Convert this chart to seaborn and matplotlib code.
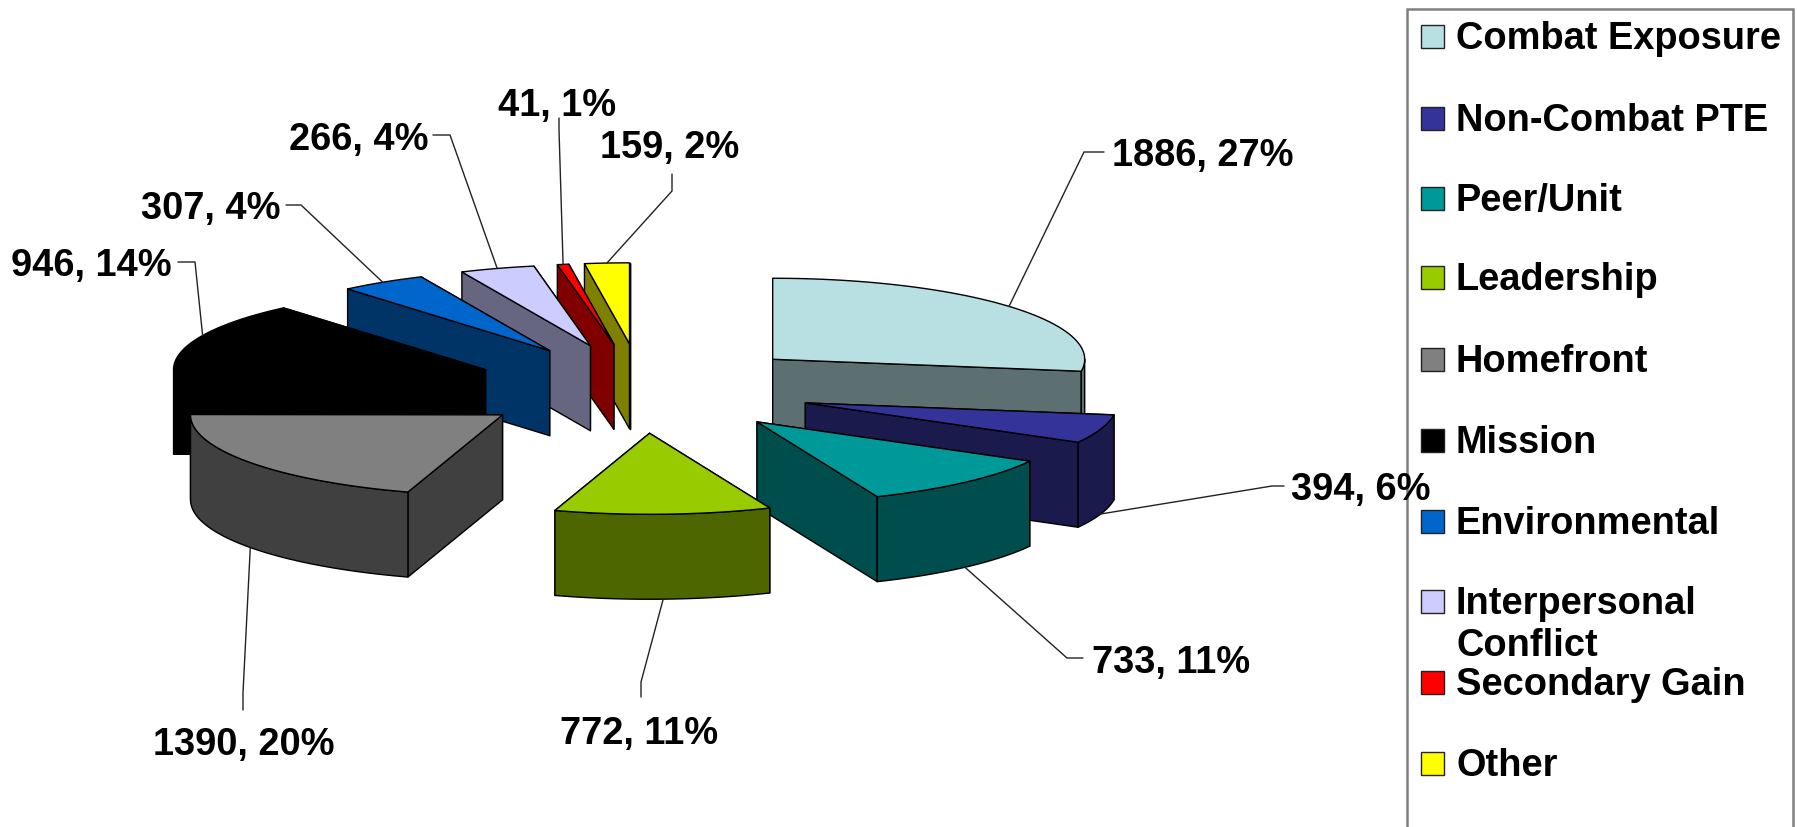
import numpy as np
import matplotlib
matplotlib.use("Agg")
import matplotlib.pyplot as plt
from matplotlib.patches import Polygon, Rectangle
import seaborn as sns

# Data
categories = ["Combat Exposure", "Non-Combat PTE", "Peer/Unit", "Leadership", "Homefront",
              "Mission", "Environmental", "Interpersonal\nConflict", "Secondary Gain", "Other"]
counts = [1886, 394, 733, 772, 1390, 946, 307, 266, 41, 159]
hex_colors = ["#B8E0E3", "#333399", "#009999", "#99CC00", "#808080",
              "#000000", "#0066CC", "#CCCCFF", "#FF0000", "#FFFF00"]

# Pie geometry in pixels
cx, cy = 642, 388.5
rx, ry = 312, 81
explode = 0.553
depth = 85

# Label layout: text position (left, centre) and elbow of the leader line
label_pos = [(1112, 156), (1291, 490), (1092, 663), (560, 734), (153, 745),
             (11, 266), (141, 209), (289, 140), (498, 106), (600, 148)]
elbows = [[(1084, 152), (1104, 152)], [(1272, 486), (1284, 486)], [(1067, 658), (1083, 658)],
          [(641, 682), (641, 697)], [(243, 693), (243, 710)], [(195, 262), (178, 262)],
          [(301, 205), (286, 205)], [(450, 135), (433, 135)], [(559, 130), (559, 118)],
          [(672, 191), (672, 174)]]

# Legend layout
legend_left, legend_top, legend_right = 1407, 9, 1793
legend_y = [36, 118, 198, 277, 359, 440, 521, 601, 682, 763]
text_shift = 3

sns.set_theme(style="white")
plt.rcParams['font.family'] = ['Liberation Sans', 'DejaVu Sans']
palette = sns.color_palette(hex_colors)

fig = plt.figure(figsize=(17.97, 8.27), dpi=100)
ax = fig.add_axes([0, 0, 1, 1])
ax.set_xlim(0, 1797)
ax.set_ylim(827, 0)
ax.axis("off")

def ring(a, ox, oy):
    # a in radians clockwise from 12 o'clock
    return np.column_stack([ox + rx * np.sin(a), oy - ry * np.cos(a)])

def draw_slice(a0, a1, color):
    mid = (a0 + a1) / 2
    ox = cx + explode * rx * np.sin(mid)
    oy = cy - explode * ry * np.cos(mid)
    dark = tuple(np.array(color) * 0.5)
    kw = dict(facecolor=dark, edgecolor="black", linewidth=1, joinstyle="round")
    # radial faces, the one nearer the back first
    faces = []
    for a in (a0, a1):
        p = ring(np.array([a]), ox, oy)[0]
        faces.append([(ox, oy), tuple(p), (p[0], p[1] + depth), (ox, oy + depth)])
    faces.sort(key=lambda f: f[1][1])
    for f in faces:
        ax.add_patch(Polygon(f, closed=True, **kw))
    # outer wall, only the part that faces the viewer
    lo, hi = max(a0, np.pi / 2), min(a1, 3 * np.pi / 2)
    if hi > lo:
        arc = ring(np.linspace(lo, hi, 50), ox, oy)
        wall = np.vstack([arc, (arc + [0, depth])[::-1]])
        ax.add_patch(Polygon(wall, closed=True, **kw))
    # top face
    arc = ring(np.linspace(a0, a1, 80), ox, oy)
    top = np.vstack([[ox, oy], arc])
    ax.add_patch(Polygon(top, closed=True, facecolor=color, edgecolor="black", linewidth=1, joinstyle="round"))

values = np.array(counts, dtype=float)
edges = np.concatenate([[0], np.cumsum(values)]) / values.sum() * 2 * np.pi
mids = (edges[:-1] + edges[1:]) / 2

# back slices first
order = np.argsort(-np.cos(mids))
for i in order:
    draw_slice(edges[i], edges[i + 1], palette[i])

# legend box goes under the data labels
ax.add_patch(Rectangle((legend_left, legend_top), legend_right - legend_left, 900,
                       facecolor="white", edgecolor="#808080", linewidth=1.8))
for name, color, y in zip(categories, palette, legend_y):
    ax.add_patch(Rectangle((1421, y - 11.5), 23, 23, facecolor=color, edgecolor="#222222", linewidth=1))
    if "\n" in name:
        first, second = name.split("\n")
        ax.text(1456, y + text_shift, first, fontsize=27.4, fontweight="bold", color="black", va="center", ha="left")
        ax.text(1456, y + 42 + text_shift, second, fontsize=27.4, fontweight="bold", color="black", va="center", ha="left")
    else:
        ax.text(1456, y + text_shift, name, fontsize=27.4, fontweight="bold", color="black", va="center", ha="left")

# data labels with leader lines
for i, v in enumerate(counts):
    ox = cx + explode * rx * np.sin(mids[i])
    oy = cy - explode * ry * np.cos(mids[i])
    start = ring(np.array([mids[i]]), ox, oy)[0]
    if np.cos(mids[i]) < 0:
        start = start + [0, depth]
    pts = np.vstack([start, elbows[i]])
    ax.plot(pts[:, 0], pts[:, 1], color="#222222", linewidth=1, solid_joinstyle="miter")
    pct = round(v / values.sum() * 100)
    ax.text(label_pos[i][0], label_pos[i][1], f"{v}, {pct}%", fontsize=27.4, fontweight="bold",
            color="black", va="center", ha="left")

fig.savefig("out.png", dpi=100, facecolor="white")
